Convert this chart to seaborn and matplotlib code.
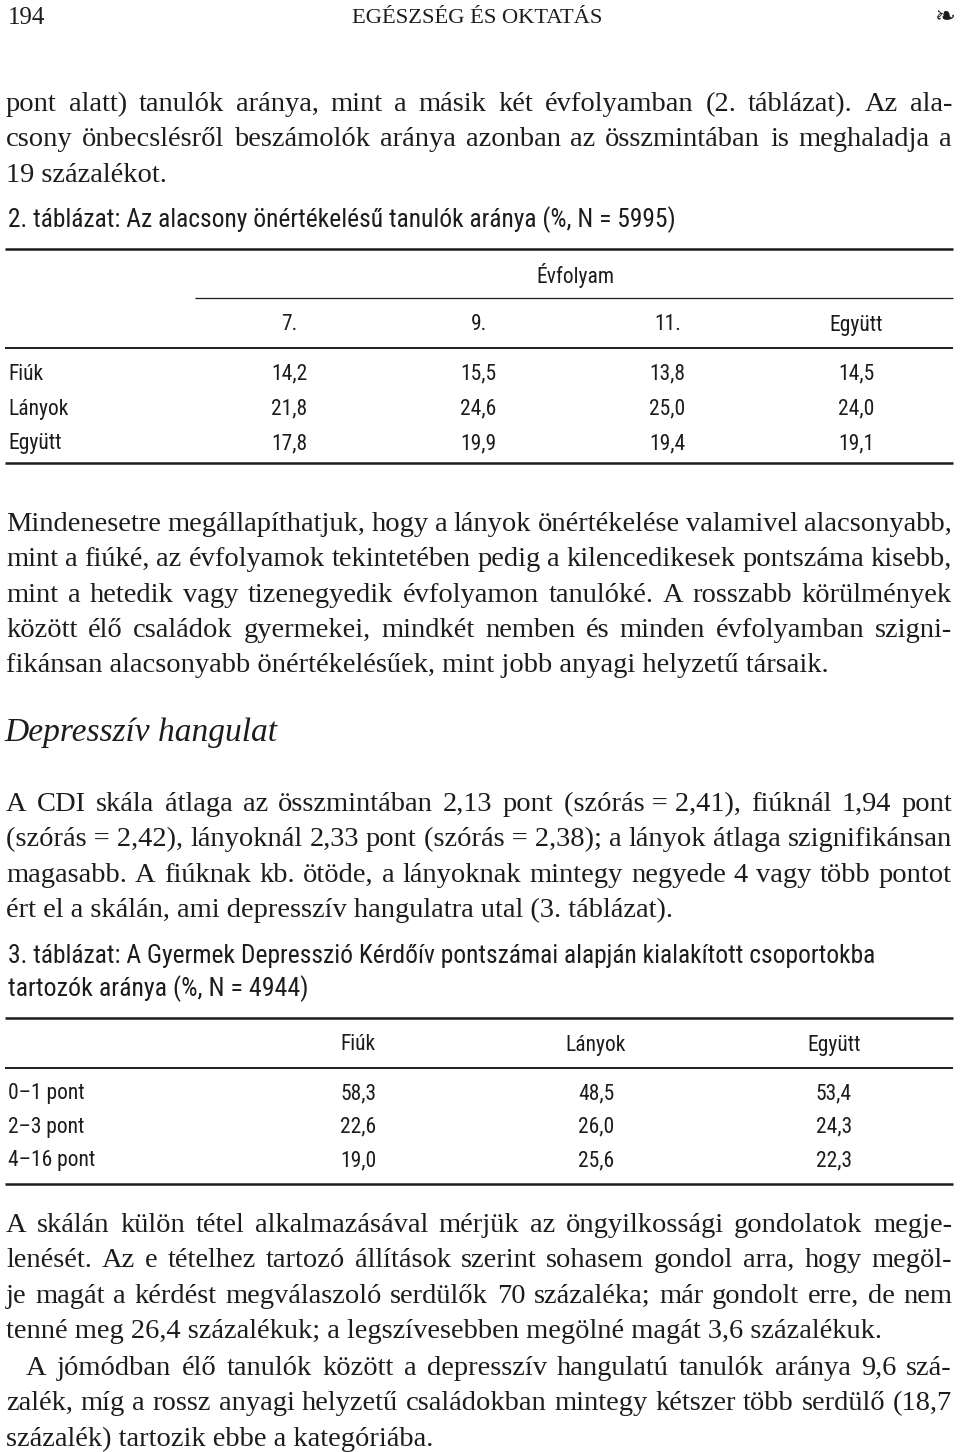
import matplotlib

matplotlib.use("Agg")
import matplotlib.pyplot as plt
import pandas as pd
import seaborn as sns
from matplotlib import font_manager
from matplotlib.colors import ListedColormap

sns.set_theme(style="white")

INK = "#1c1c1c"
W, H = 960, 1452


def pick_font(names):
    for name in names:
        try:
            font_manager.findfont(
                font_manager.FontProperties(family=name), fallback_to_default=False
            )
            return name
        except ValueError:
            pass
    return "DejaVu Sans"


SERIF = pick_font(["Liberation Serif", "DejaVu Serif"])
NARROW = pick_font(["Liberation Sans Narrow", "Roboto Condensed", "Roboto",
                    "Liberation Sans"])

# --- data: 2. táblázat (alacsony önértékelésű tanulók aránya, %)
grades = ["7.", "9.", "11.", "Együtt"]
sexes = ["Fiúk", "Lányok", "Együtt"]
fiuk_by_grade = [14.2, 15.5, 13.8, 14.5]
lanyok_by_grade = [21.8, 24.6, 25.0, 24.0]
egyutt_by_grade = [17.8, 19.9, 19.4, 19.1]

# --- data: 3. táblázat (CDI pontszám csoportok, %)
cdi_bands = ["0–1 pont", "2–3 pont", "4–16 pont"]
cdi_groups = ["Fiúk", "Lányok", "Együtt"]
cdi_fiuk = [58.3, 22.6, 19.0]
cdi_lanyok = [48.5, 26.0, 25.6]
cdi_egyutt = [53.4, 24.3, 22.3]

para_intro = [
    "pont alatt) tanulók aránya, mint a másik két évfolyamban (2. táblázat). Az ala-",
    "csony önbecslésről beszámolók aránya azonban az összmintában is meghaladja a",
    "19 százalékot.",
]
para_self = [
    "Mindenesetre megállapíthatjuk, hogy a lányok önértékelése valamivel alacsonyabb,",
    "mint a fiúké, az évfolyamok tekintetében pedig a kilencedikesek pontszáma kisebb,",
    "mint a hetedik vagy tizenegyedik évfolyamon tanulóké. A rosszabb körülmények",
    "között élő családok gyermekei, mindkét nemben és minden évfolyamban szigni-",
    "fikánsan alacsonyabb önértékelésűek, mint jobb anyagi helyzetű társaik.",
]
para_cdi = [
    "A CDI skála átlaga az összmintában 2,13 pont (szórás\u00a0=\u00a02,41), fiúknál 1,94 pont",
    "(szórás\u00a0=\u00a02,42), lányoknál 2,33 pont (szórás\u00a0=\u00a02,38); a lányok átlaga szignifikánsan",
    "magasabb. A fiúknak kb. ötöde, a lányoknak mintegy negyede 4 vagy több pontot",
    "ért el a skálán, ami depresszív hangulatra utal (3. táblázat).",
]
para_suicide = [
    "A skálán külön tétel alkalmazásával mérjük az öngyilkossági gondolatok megje-",
    "lenését. Az e tételhez tartozó állítások szerint sohasem gondol arra, hogy megöl-",
    "je magát a kérdést megválaszoló serdülők 70 százaléka; már gondolt erre, de nem",
    "tenné meg 26,4 százalékuk; a legszívesebben megölné magát 3,6 százalékuk.",
]
para_wealth = [
    "A jómódban élő tanulók között a depresszív hangulatú tanulók aránya 9,6 szá-",
    "zalék, míg a rossz anyagi helyzetű családokban mintegy kétszer több serdülő (18,7",
    "százalék) tartozik ebbe a kategóriába.",
]

fig = plt.figure(figsize=(W / 100, H / 100), dpi=100)
fig.patch.set_facecolor("white")
ax = fig.add_axes([0, 0, 1, 1])
ax.set_xlim(0, W)
ax.set_ylim(H, 0)
ax.axis("off")
renderer = fig.canvas.get_renderer()

BODY = 20.5
TABLE = 15.5
MIN_GAP = 4.5


def hu(v):
    return f"{v:.1f}".replace(".", ",")


def fit_text(x, y, s, width, family, ha="left", **kw):
    t = ax.text(x, y, s, fontsize=10, family=family, color=INK, ha=ha,
                va="baseline", **kw)
    w = t.get_window_extent(renderer).width
    t.set_fontsize(10 * width / w)
    return t


def paragraph(lines, y0, lead=35.3, x0=6, x1=952, indent=0):
    for i, line in enumerate(lines):
        y = y0 + i * lead
        left = x0 + (indent if i == 0 else 0)
        if i == len(lines) - 1:
            ax.text(left, y, line, fontsize=BODY, family=SERIF, color=INK,
                    va="baseline")
            continue
        words = line.split(" ")
        arts = [ax.text(0, y, w, fontsize=BODY, family=SERIF, color=INK,
                        va="baseline") for w in words]
        widths = [a.get_window_extent(renderer).width for a in arts]
        avail = x1 - left
        gap = (avail - sum(widths)) / (len(words) - 1)
        if gap < MIN_GAP:
            # squeeze the line a little, as a typesetter would
            f = (avail - MIN_GAP * (len(words) - 1)) / sum(widths)
            for a in arts:
                a.set_fontsize(BODY * f)
            widths = [w * f for w in widths]
            gap = MIN_GAP
        x = left
        for a, w in zip(arts, widths):
            a.set_x(x)
            x += w + gap


def rule(y, x0=5, x1=953, lw=1.8):
    ax.plot([x0, x1], [y, y], color=INK, lw=lw, solid_capstyle="butt")


def value_table(df, left, top, width, height):
    hax = fig.add_axes([left / W, 1 - (top + height) / H, width / W, height / H])
    sns.heatmap(
        df,
        annot=df.map(hu).values,
        fmt="",
        cmap=ListedColormap(["white"]),
        vmin=0,
        vmax=100,
        cbar=False,
        xticklabels=False,
        yticklabels=False,
        annot_kws={"fontsize": TABLE, "family": NARROW, "color": INK},
        ax=hax,
    )
    hax.set_facecolor("none")
    hax.set_xlabel("")
    hax.set_ylabel("")
    n_rows, n_cols = df.shape
    col_x = [left + (j + 0.5) * width / n_cols for j in range(n_cols)]
    row_y = [top + (i + 0.5) * height / n_rows for i in range(n_rows)]
    for lab, y in zip(df.index, row_y):
        ax.text(8, y, lab, fontsize=TABLE, family=NARROW, color=INK, va="center")
    return col_x


# running head
ax.text(8, 24, "194", fontsize=18, family=SERIF, color=INK, va="baseline")
fit_text(352, 23, "EGÉSZSÉG ÉS OKTATÁS", 251, SERIF)
ax.text(955, 24, "\u2767", fontsize=18, family="DejaVu Sans", color=INK,
        ha="right", va="baseline")

paragraph(para_intro, 111)

# 2. táblázat
fit_text(8, 227, "2. táblázat: Az alacsony önértékelésű tanulók aránya (%, N = 5995)",
         664, NARROW)
rule(249, lw=1.8)
rule(298, x0=195, lw=0.9)
rule(348, lw=1.4)
rule(463, lw=1.8)
self_df = pd.DataFrame([fiuk_by_grade, lanyok_by_grade, egyutt_by_grade],
                       index=sexes, columns=grades)
cols2 = value_table(self_df, 195, 356.5, 756, 105)
ax.text(575, 276, "Évfolyam", fontsize=TABLE, family=NARROW, color=INK,
        ha="center", va="center")
for lab, x in zip(grades, cols2):
    ax.text(x, 325, lab, fontsize=TABLE, family=NARROW, color=INK,
            ha="center", va="center")

paragraph(para_self, 531)

fit_text(4, 741, "Depresszív hangulat", 274, SERIF, style="italic")

paragraph(para_cdi, 811)

# 3. táblázat
fit_text(8, 963, "3. táblázat: A Gyermek Depresszió Kérdőív pontszámai alapján "
         "kialakított csoportokba", 862, NARROW)
fit_text(8, 996, "tartozók aránya (%, N = 4944)", 299, NARROW)
rule(1018, lw=1.8)
rule(1068, lw=1.4)
rule(1184, lw=1.8)
cdi_df = pd.DataFrame({"Fiúk": cdi_fiuk, "Lányok": cdi_lanyok, "Együtt": cdi_egyutt},
                      index=cdi_bands)[cdi_groups]
cols3 = value_table(cdi_df, 239, 1077, 714, 100.5)
for lab, x in zip(cdi_groups, cols3):
    ax.text(x, 1045, lab, fontsize=TABLE, family=NARROW, color=INK,
            ha="center", va="center")

paragraph(para_suicide, 1232)
paragraph(para_wealth, 1375, indent=20)

fig.savefig("out.png", dpi=100, facecolor="white")
